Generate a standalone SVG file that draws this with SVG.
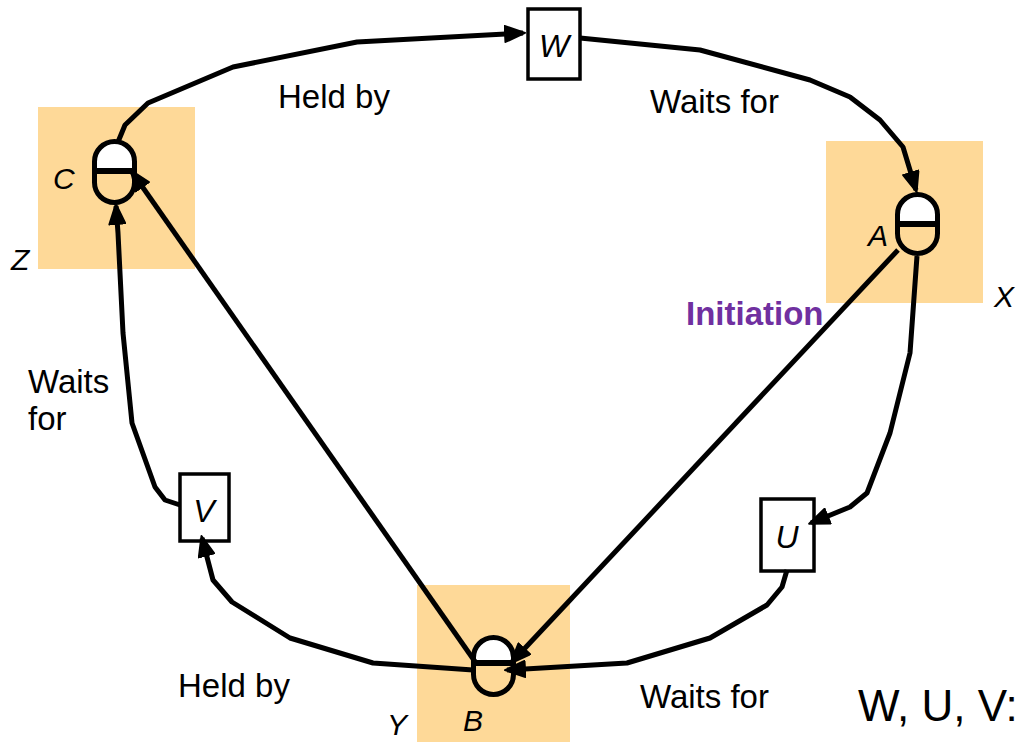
<svg xmlns="http://www.w3.org/2000/svg" width="1017" height="742" viewBox="0 0 1017 742">
<style>
.lbl{font-family:"Liberation Sans",Arial,sans-serif;font-size:33px;fill:#000}
.it{font-family:"Liberation Sans",Arial,sans-serif;font-style:italic;font-size:30px;fill:#000}
.bx{font-family:"Liberation Sans",Arial,sans-serif;font-style:italic;font-size:32px;fill:#000}
.hl{fill:#FED998}
.res{fill:#fff;stroke:#000;stroke-width:3.5}
.cap{fill:none;stroke:#000;stroke-width:5}
.top{fill:#fff}
.bar{stroke:#000;stroke-width:6}
.con{fill:none;stroke:#000;stroke-width:5;stroke-linejoin:round}
</style>
<defs>
<marker id="ah" viewBox="0 0 22 18" refX="19" refY="9" markerWidth="22" markerHeight="18" markerUnits="userSpaceOnUse" orient="auto">
<path d="M1,1 L21,9 L1,17 Z" fill="#000" stroke="#000" stroke-width="2" stroke-linejoin="round"/>
</marker>
</defs>
<rect width="1017" height="742" fill="#fff"/>

<g id="nodeC">
<rect class="hl" x="38" y="107" width="157" height="162"/>
<path class="top" d="M94.5,171 L94.5,161.5 A20,20 0 0 1 134.5,161.5 L134.5,171 Z"/>
<rect class="cap" x="94.5" y="141.5" width="40" height="61" rx="20"/>
<line class="bar" x1="94.5" y1="171" x2="134.5" y2="171"/>
<text class="it" x="53" y="189">C</text>
<text class="it" x="11" y="270">Z</text>
</g>

<g id="nodeA">
<rect class="hl" x="826" y="141" width="157" height="162"/>
<path class="top" d="M897.5,224 L897.5,214.5 A20,20 0 0 1 937.5,214.5 L937.5,224 Z"/>
<rect class="cap" x="897.5" y="194.5" width="40" height="59" rx="20"/>
<line class="bar" x1="897.5" y1="224" x2="937.5" y2="224"/>
<text class="it" x="868" y="246">A</text>
<text class="it" x="994" y="307">X</text>
</g>

<g id="nodeB">
<rect class="hl" x="417" y="585" width="153" height="160"/>
<path class="top" d="M473.5,663 L473.5,657.5 A20,20 0 0 1 513.5,657.5 L513.5,663 Z"/>
<rect class="cap" x="473.5" y="637.5" width="40" height="57" rx="20"/>
<line class="bar" x1="473.5" y1="663" x2="513.5" y2="663"/>
<text class="it" x="463" y="731">B</text>
<text class="it" x="387" y="735">Y</text>
</g>

<g id="resW">
<rect class="res" x="528" y="9" width="52" height="70"/>
<text class="bx" x="554" y="57" text-anchor="middle">W</text>
</g>
<g id="resU">
<rect class="res" x="761" y="499" width="53" height="72"/>
<text class="bx" x="787" y="548" text-anchor="middle">U</text>
</g>
<g id="resV">
<rect class="res" x="180" y="474" width="49" height="67"/>
<text class="bx" x="204" y="522" text-anchor="middle">V</text>
</g>

<g id="connectors">
<polyline class="con" marker-end="url(#ah)" points="118,142 125,125 148,103 233,67 357,42 523,33"/>
<polyline class="con" marker-end="url(#ah)" points="580,38 700,50 810,80 850,97 880,120 903,147 916,190"/>
<polyline class="con" marker-end="url(#ah)" points="917,256 910,353 890,433 867,493 850,507 811,523"/>
<polyline class="con" marker-end="url(#ah)" points="787,570 782,587 767,605 710,638 627,663 507,670"/>
<polyline class="con" marker-end="url(#ah)" points="898,250 512,662"/>
<polyline class="con" marker-end="url(#ah)" points="476,663 132,172"/>
<polyline class="con" marker-end="url(#ah)" points="473,670 373,663 290,638 232,602 213,580 202,538"/>
<polyline class="con" marker-end="url(#ah)" points="180,505 165,500 155,487 132,423 123,333 118,233 116,206"/>
</g>

<g id="labels">
<text class="lbl" x="278" y="108">Held by</text>
<text class="lbl" x="650" y="113">Waits for</text>
<text class="lbl" x="686" y="325" style="font-weight:bold;fill:#7030A0">Initiation</text>
<text class="lbl" x="28" y="393">Waits</text>
<text class="lbl" x="28" y="430">for</text>
<text class="lbl" x="178" y="697">Held by</text>
<text class="lbl" x="640" y="708">Waits for</text>
<text x="858" y="721" style="font-family:'Liberation Sans',Arial,sans-serif;font-size:44px;fill:#000">W, U, V:</text>
</g>
</svg>
